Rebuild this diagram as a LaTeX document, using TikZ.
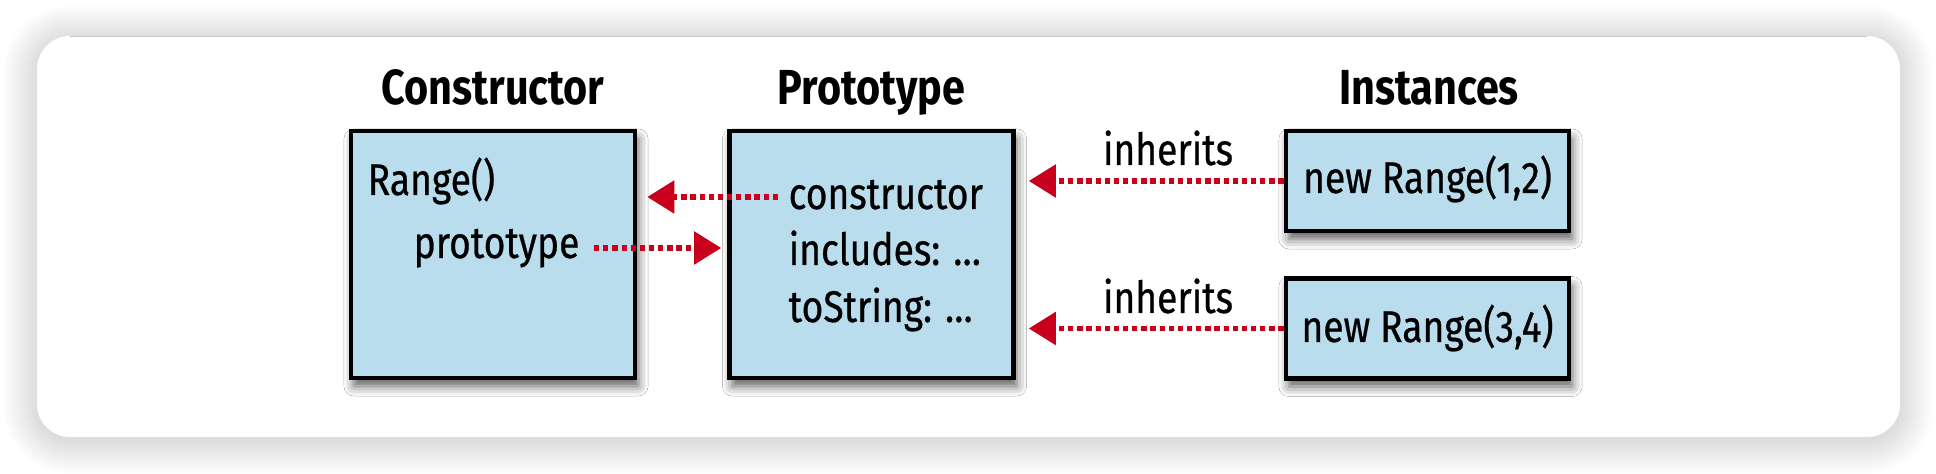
\documentclass[tikz,border=0pt]{standalone}
\usepackage{fontspec}
\setmainfont[FakeStretch=0.84]{Fira Sans}
\newfontfamily\txtfont[FakeStretch=0.84,FakeBold=0.6]{Fira Sans}
\usetikzlibrary{arrows.meta,shadows.blur,calc}
\definecolor{boxblue}{RGB}{186,221,238}
\definecolor{arrred}{RGB}{200,0,30}
\begin{document}
\begin{tikzpicture}[x=0.01cm,y=-0.01cm,
  box/.style={draw=black, line width=1.25pt, fill=boxblue, inner sep=0pt,
    blur shadow={shadow xshift=0.03cm, shadow yshift=-0.08cm, shadow blur radius=0.1cm, shadow opacity=65}},
  bigbox/.style={box, minimum width=2.84cm, minimum height=2.47cm},
  instbox/.style={box, minimum width=2.83cm, minimum height=1.0cm},
  title/.style={font=\bfseries\fontsize{14}{17}\selectfont, inner sep=0pt, anchor=base},
  txt/.style={font=\txtfont\fontsize{12.6}{15}\selectfont, inner sep=0pt},
  arr/.style={draw=arrred, line width=1.5pt, dash pattern=on 1.5pt off 1.1pt,
    -{Triangle[length=0.27cm, width=0.32cm, fill=arrred]}},
]
\fill[white] (0,0) rectangle (1936,474);
% soft card shadow
\foreach \i in {1,...,34}{
  \pgfmathsetmacro\rr{0.33+\i*0.01}
  \fill[black, fill opacity=0.0055, rounded corners=\rr cm]
    (37-\i,36-\i+3) rectangle (1900+\i,437+\i+3);
}
\fill[white, rounded corners=0.33cm] (37,36) rectangle (1900,437);
\draw[black!22, line width=0.35pt] (70,36.2) -- (1867,36.2);

% titles
\node[title] (tcons) at (493,105) {Constructor};
\node[title] (tproto) at (871.5,105) {Prototype};
\node[title] (tinst) at (1429,105) {Instances};

% boxes
\node[bigbox] (cons) at (493,254.5) {};
\node[bigbox] (proto) at (871.5,254.5) {};
\node[instbox] (inst1) at (1427.5,181) {};
\node[instbox] (inst2) at (1427.5,328.5) {};

% texts
\node[txt, anchor=base west] (range) at (367,195) {Range()};
\node[txt, anchor=base west] (ptext) at (413,258) {prototype};
\node[txt, anchor=base west] (ctext) at (788,209) {constructor};
\node[txt, anchor=base west] (itext) at (788,265) {includes: …};
\node[txt, anchor=base west] (stext) at (788,322) {toString: …};
\node[txt, anchor=base] (n1) at (1427.5,193) {new Range(1,2)};
\node[txt, anchor=base] (n2) at (1427.5,342) {new Range(3,4)};
\node[txt, anchor=base] (inh1) at (1168,165) {inherits};
\node[txt, anchor=base] (inh2) at (1168,313) {inherits};

% arrows
\coordinate (a1s) at ($(ctext.base west)+(-10,-12)$);
\coordinate (a2s) at ($(ptext.base east)+(14,-10)$);
\draw[arr, shorten >=0.1cm] (a1s) -- (cons.east |- a1s);
\draw[arr, shorten >=0.06cm] (a2s) -- (proto.west |- a2s);
\draw[arr, shorten >=0.13cm] (inst1.west) -- (proto.east |- inst1.west);
\draw[arr, shorten >=0.13cm] (inst2.west) -- (proto.east |- inst2.west);
\end{tikzpicture}
\end{document}
